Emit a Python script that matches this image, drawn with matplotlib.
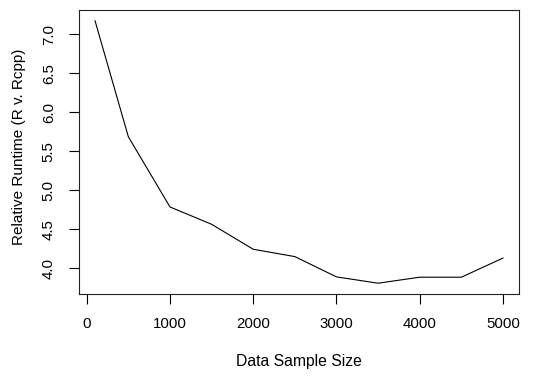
import matplotlib.pyplot as plt

plt.rcParams['font.family'] = ['Liberation Sans', 'DejaVu Sans']

# data
sample_size = [100, 500, 1000, 1500, 2000, 2500, 3000, 3500, 4000, 4500, 5000]
rel_runtime = [7.17, 5.685, 4.785, 4.563, 4.243, 4.149, 3.889, 3.808, 3.885, 3.885, 4.13]
x_ticks = [0, 1000, 2000, 3000, 4000, 5000]
y_ticks = [4.0, 4.5, 5.0, 5.5, 6.0, 6.5, 7.0]

fig = plt.figure(figsize=(5.57, 3.78), dpi=100)
ax = fig.add_axes([0.1413, 0.223, 0.791, 0.7498])

ax.plot(sample_size, rel_runtime, color='black', linewidth=0.8)

# R-style 4% axis extension
xr = max(sample_size) - min(sample_size)
yr = max(rel_runtime) - min(rel_runtime)
ax.set_xlim(min(sample_size) - 0.04 * xr, max(sample_size) + 0.04 * xr)
ax.set_ylim(min(rel_runtime) - 0.04 * yr, max(rel_runtime) + 0.04 * yr)

ax.set_xticks(x_ticks)
ax.set_yticks(y_ticks)
ax.set_xticklabels([str(t) for t in x_ticks])
ax.set_yticklabels(['%.1f' % t for t in y_ticks], rotation=90, va='center')
ax.tick_params(direction='out', length=7, width=0.8, labelsize=10.8, pad=9.5)

for s in ax.spines.values():
    s.set_linewidth(0.8)
    s.set_color('#222222')

ax.set_xlabel('Data Sample Size', fontsize=11.3, labelpad=17)
ax.set_ylabel('Relative Runtime (R v. Rcpp)', fontsize=11)
ax.yaxis.set_label_coords(-0.12, 0.517)

fig.savefig('out.png', dpi=100)
